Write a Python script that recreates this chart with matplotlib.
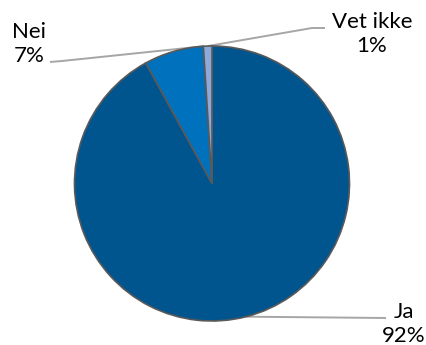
import numpy as np
import matplotlib.pyplot as plt

labels = ['Ja', 'Nei', 'Vet ikke']
shares = [92, 7, 1]
colors = ['#00558E', '#0071BC', '#8EAADB']

W, H = 427, 345
fig = plt.figure(figsize=(W / 100, H / 100), dpi=100)
ax = fig.add_axes([0, 0, 1, 1])

cx, cy, r = 212, H - 183.5, 137.5
wedges, _ = ax.pie(shares, colors=colors, startangle=90, counterclock=False,
                   center=(cx, cy), radius=r, frame=True,
                   wedgeprops=dict(edgecolor='#595959', linewidth=1.2))
ax.set_xlim(0, W)
ax.set_ylim(0, H)
ax.set_aspect('equal')
ax.axis('off')

# label text position and where the leader line bends, in pixels from top-left
label_pos = {'Ja': (404, 324), 'Nei': (29, 44), 'Vet ikke': (372, 34)}
elbow = {'Ja': (386, 318), 'Nei': (62, 61), 'Vet ikke': (312, 28)}
line_end = {'Ja': (386, 318), 'Nei': (50, 62), 'Vet ikke': (325, 28)}

for w, lab, val in zip(wedges, labels, shares):
    if lab == 'Nei':
        ang = w.theta1  # top edge of the slice
    else:
        ang = (w.theta1 + w.theta2) / 2
    px = cx + r * np.cos(np.radians(ang))
    py = cy + r * np.sin(np.radians(ang))
    ex, ey = elbow[lab]
    lx, ly = line_end[lab]
    ax.plot([px, ex, lx], [py, H - ey, H - ly], color='#A6A6A6', lw=1.4,
            solid_capstyle='butt', zorder=0.5)
    tx, ty = label_pos[lab]
    ax.text(tx, H - ty, f'{lab}\n{val}%', ha='center', va='center',
            fontsize=16, family='Lato', color='#000000', linespacing=1.3)

fig.savefig('out.png', dpi=100)
